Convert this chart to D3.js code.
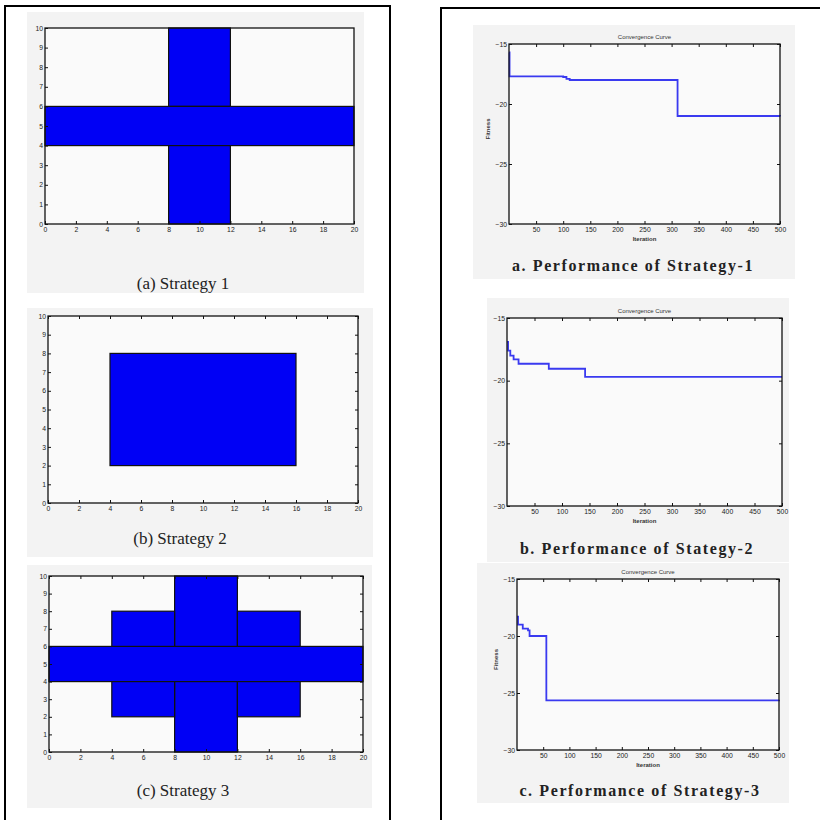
<!DOCTYPE html>
<html>
<head>
<meta charset="utf-8">
<script src="https://cdn.jsdelivr.net/npm/d3@7"></script>
<style>
  body { margin: 0; background: #fff; }
  svg { display: block; }
  .tick text { font-family: "Liberation Sans", Arial, sans-serif; font-size: 6.8px; fill: #222; }
  .tick line { stroke: #111; }
</style>
</head>
<body>
<svg id="chart" width="820" height="820"></svg>
<script>
// strategy layouts: rectangles as [x0, x1, y0, y1]
let rects1 = [[8, 12, 6, 10], [0, 20, 4, 6], [8, 12, 0, 4]];
let rects2 = [[4, 16, 2, 8]];
let rects3 = [[0, 20, 4, 6], [8, 12, 6, 10], [8, 12, 0, 4],
              [4, 8, 6, 8], [12, 16, 6, 8], [4, 8, 2, 4], [12, 16, 2, 4]];
let gridXTicks = d3.range(0, 21, 2),
    gridYTicks = d3.range(0, 11, 1);

// convergence curves: iteration where the best fitness changes, and the value
let iter1 = [0, 1, 100, 106, 112, 311, 500],
    fit1 = [-15.7, -17.7, -17.75, -17.9, -18.0, -21.0, -21.05];
let iter2 = [0, 2, 6, 12, 21, 76, 142, 500],
    fit2 = [-16.9, -17.6, -18.0, -18.3, -18.65, -19.05, -19.7, -19.7];
let iter3 = [0, 2, 11, 21, 24, 56, 500],
    fit3 = [-18.3, -19.0, -19.35, -19.5, -20.0, -25.65, -25.6];
let iterTicks = d3.range(50, 501, 50),
    fitTicks = [-15, -20, -25, -30];

let svg = d3.select("#chart");

// outer frames
svg.append("rect").attr("x", 5).attr("y", 6).attr("width", 385).attr("height", 830)
    .attr("fill", "none").attr("stroke", "#000").attr("stroke-width", 2);
svg.append("rect").attr("x", 441).attr("y", 8).attr("width", 400).attr("height", 830)
    .attr("fill", "none").attr("stroke", "#000").attr("stroke-width", 2);

function panelBase(bg, plot) {
  svg.append("rect")
      .attr("x", bg[0]).attr("y", bg[1])
      .attr("width", bg[2] - bg[0]).attr("height", bg[3] - bg[1])
      .attr("fill", "#f3f3f3");
  svg.append("rect")
      .attr("x", plot[0]).attr("y", plot[1])
      .attr("width", plot[2] - plot[0]).attr("height", plot[3] - plot[1])
      .attr("fill", "#fafafa");
}

function frame(plot) {
  svg.append("rect")
      .attr("x", plot[0]).attr("y", plot[1])
      .attr("width", plot[2] - plot[0]).attr("height", plot[3] - plot[1])
      .attr("fill", "none").attr("stroke", "#111").attr("stroke-width", 1.3);
}

function axes(x, y, plot, xt, yt, mirror) {
  let gx = svg.append("g").attr("transform", "translate(0," + plot[3] + ")")
      .call(d3.axisBottom(x).tickValues(xt).tickSizeInner(-3).tickSizeOuter(0).tickPadding(3).tickFormat(d3.format("d")));
  let gy = svg.append("g").attr("transform", "translate(" + plot[0] + ",0)")
      .call(d3.axisLeft(y).tickValues(yt).tickSizeInner(-3).tickSizeOuter(0).tickPadding(2).tickFormat(d3.format("d")));
  gx.select(".domain").remove();
  gy.select(".domain").remove();
  if (mirror) {
    let gt = svg.append("g").attr("transform", "translate(0," + plot[1] + ")")
        .call(d3.axisTop(x).tickValues(xt).tickSizeInner(-3).tickSizeOuter(0).tickFormat(""));
    let gr = svg.append("g").attr("transform", "translate(" + plot[2] + ",0)")
        .call(d3.axisRight(y).tickValues(yt).tickSizeInner(-3).tickSizeOuter(0).tickFormat(""));
    gt.select(".domain").remove();
    gr.select(".domain").remove();
  }
}

function drawStrategy(bg, plot, rects, caption, cy, cx, mirror) {
  panelBase(bg, plot);
  let x = d3.scaleLinear().domain([0, 20]).range([plot[0], plot[2]]);
  let y = d3.scaleLinear().domain([0, 10]).range([plot[3], plot[1]]);
  svg.append("g").selectAll("rect")
    .data(rects)
    .enter().append("rect")
      .attr("x", function(d) { return x(d[0]); })
      .attr("y", function(d) { return y(d[3]); })
      .attr("width", function(d) { return x(d[1]) - x(d[0]); })
      .attr("height", function(d) { return y(d[2]) - y(d[3]); })
      .attr("fill", "#0000f5")
      .attr("stroke", "#111")
      .attr("stroke-width", 1.2);
  frame(plot);
  axes(x, y, plot, gridXTicks, gridYTicks, mirror);
  svg.append("text")
      .attr("x", cx).attr("y", cy)
      .attr("text-anchor", "middle")
      .attr("font-family", "'Liberation Serif', 'Times New Roman', serif")
      .attr("font-size", 17)
      .attr("fill", "#222")
      .text(caption);
}

function drawCurve(bg, plot, iters, fits, caption, cy, cx, ylab) {
  panelBase(bg, plot);
  let x = d3.scaleLinear().domain([0, 500]).range([plot[0], plot[2]]);
  let y = d3.scaleLinear().domain([-30, -15]).range([plot[3], plot[1]]);
  let line = d3.line()
      .x(function(d) { return x(d[0]); })
      .y(function(d) { return y(d[1]); })
      .curve(d3.curveStepAfter);
  svg.append("path")
      .datum(d3.zip(iters, fits))
      .attr("d", line)
      .attr("fill", "none")
      .attr("stroke", "#3a3af0")
      .attr("stroke-width", 1.8);
  frame(plot);
  axes(x, y, plot, iterTicks, fitTicks, true);
  svg.append("text")
      .attr("x", (plot[0] + plot[2]) / 2).attr("y", plot[1] - 5)
      .attr("text-anchor", "middle")
      .attr("font-family", "'Liberation Sans', Arial, sans-serif")
      .attr("font-size", 6)
      .attr("fill", "#333")
      .text("Convergence Curve");
  svg.append("text")
      .attr("x", (plot[0] + plot[2]) / 2).attr("y", plot[3] + 17)
      .attr("text-anchor", "middle")
      .attr("font-family", "'Liberation Sans', Arial, sans-serif")
      .attr("font-size", 6)
      .attr("font-weight", "bold")
      .attr("fill", "#333")
      .text("Iteration");
  if (ylab) {
    let ym = (plot[1] + plot[3]) / 2 - 5;
    svg.append("text")
        .attr("transform", "translate(" + (plot[0] - 19) + "," + ym + ") rotate(-90)")
        .attr("text-anchor", "middle")
        .attr("font-family", "'Liberation Sans', Arial, sans-serif")
        .attr("font-size", 6)
        .attr("font-weight", "bold")
        .attr("fill", "#333")
        .text("Fitness");
  }
  svg.append("text")
      .attr("x", cx).attr("y", cy)
      .attr("text-anchor", "middle")
      .attr("font-family", "'Liberation Serif', 'Times New Roman', serif")
      .attr("font-size", 16)
      .attr("font-weight", "bold")
      .attr("letter-spacing", 1.6)
      .attr("fill", "#222")
      .text(caption);
}

drawStrategy([27, 12, 364, 293], [45, 28, 354, 224], rects1, "(a) Strategy 1", 289, 183, false);
drawStrategy([27, 308, 373, 557], [48, 316, 358, 503], rects2, "(b) Strategy 2", 544, 180, true);
drawStrategy([27, 565, 372, 808], [49, 576, 363, 752], rects3, "(c) Strategy 3", 796, 183, true);

drawCurve([473, 25, 795, 279], [509, 44, 780, 224], iter1, fit1, "a. Performance of Strategy-1", 271, 633, true);
drawCurve([487, 298, 789, 562], [507, 318, 782, 506], iter2, fit2, "b. Performance of Stategy-2", 554, 637, false);
drawCurve([477, 563, 789, 803], [517, 579, 779, 750], iter3, fit3, "c. Performance of Strategy-3", 796, 640, true);
</script>
</body>
</html>
